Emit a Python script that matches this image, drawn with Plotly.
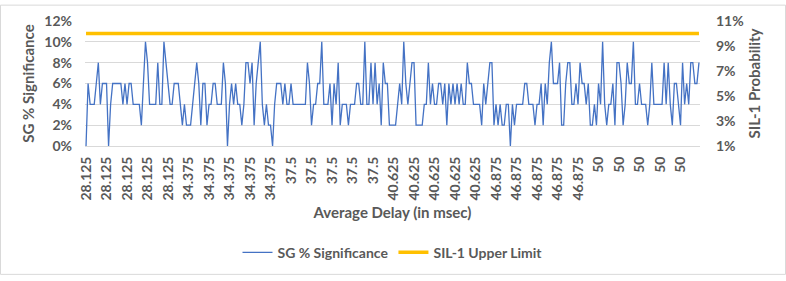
import plotly.graph_objects as go

delays = ["28.125", "34.375", "37.5", "40.625", "46.875", "50"]
points_per_delay = 50
categories = [d for d in delays for _ in range(points_per_delay)]

sg_pct = [
    0,6,4,4,4,6,8,4,6,6, 6,0,4,6,6,6,6,6,4,6, 4,6,6,4,4,4,4,2,6,10, 8,4,4,4,4,8,4,4,10,8, 6,4,4,6,6,6,4,2,4,2,
    2,2,4,6,8,6,2,6,6,2, 4,4,6,6,4,4,4,8,6,0, 4,6,4,6,4,4,2,4,8,8, 6,8,2,6,8,10,4,2,4,2, 2,0,4,6,6,6,4,6,4,4,
    6,4,4,4,4,4,4,4,8,6, 2,4,4,6,6,10,4,4,4,6, 2,6,4,8,2,4,4,4,2,4, 4,4,6,6,4,4,10,4,4,8, 4,8,4,6,2,8,6,6,2,2,
    2,2,4,6,4,10,6,4,6,8, 8,2,2,2,2,4,4,8,4,6, 4,4,6,6,4,6,2,6,4,6, 4,6,4,6,4,4,8,6,6,4, 4,4,4,2,6,4,6,8,8,2,
    4,2,4,2,2,4,4,0,4,2, 4,4,4,4,6,6,4,4,4,2, 4,4,6,2,6,4,8,10,6,6, 6,8,2,2,6,8,8,4,4,6, 4,8,6,6,4,6,2,2,4,2,
    6,4,10,4,2,4,4,6,2,8, 8,6,2,4,8,6,6,10,4,4, 6,4,4,4,2,4,8,4,4,4, 4,4,8,4,8,4,2,6,6,4, 2,8,4,6,4,8,8,6,6,8,
]
sil1_limit_pct = 10
label_step = 10

x_idx = list(range(len(categories)))
sg_frac = [v / 100 for v in sg_pct]
sil_frac = [sil1_limit_pct / 100 for _ in categories]

tickvals = x_idx[::label_step]
ticktext = [categories[i] for i in tickvals]

FONT = "Lato"
GRAY = "#595959"

fig = go.Figure()
fig.add_trace(go.Scatter(
    x=x_idx, y=sg_frac, mode="lines", name="SG % Significance",
    line=dict(color="#4472C4", width=1.3), yaxis="y",
))
fig.add_trace(go.Scatter(
    x=x_idx, y=sil_frac, mode="lines", name="SIL-1 Upper Limit",
    line=dict(color="#FFC000", width=3.5), yaxis="y2",
))

L, R, T, B = 85, 86, 17, 134
W, H = 786, 281
pw, ph = W - L - R, H - T - B

fig.update_layout(
    width=W, height=H,
    margin=dict(l=L, r=R, t=T, b=B),
    paper_bgcolor="white", plot_bgcolor="white",
    font=dict(family=FONT, color=GRAY, size=13),
    showlegend=True,
    legend=dict(orientation="h", x=0.5, xanchor="center", y=(147 - 258) / ph, yanchor="middle",
                font=dict(family=FONT, size=14, color=GRAY, weight="bold"),
                itemwidth=30, tracegroupgap=0),
    xaxis=dict(
        range=[-0.5, len(categories) - 0.5],
        tickmode="array", tickvals=tickvals, ticktext=ticktext, tickangle=-90,
        tickfont=dict(family=FONT, size=14, color=GRAY, weight="bold"),
        showgrid=False, zeroline=False, showline=True, linecolor="#d9d9d9",
        ticks="", ticklabelstandoff=4,
        title=dict(text="Average Delay (in msec)", standoff=7,
                   font=dict(family=FONT, size=15, color=GRAY, weight="bold")),
    ),
    yaxis=dict(
        range=[0, 0.12], dtick=0.02, tick0=0, tickformat=".0%",
        tickfont=dict(family=FONT, size=14, color=GRAY, weight="bold"),
        showgrid=True, gridcolor="#d9d9d9", gridwidth=1,
        zeroline=True, zerolinecolor="#d9d9d9", zerolinewidth=1,
        ticks="", ticklabelstandoff=12,
        title=dict(text="SG % Significance", standoff=6,
                   font=dict(family=FONT, size=15, color=GRAY, weight="bold")),
    ),
    yaxis2=dict(
        range=[0.01, 0.11], dtick=0.02, tick0=0.01, tickformat=".0%",
        overlaying="y", side="right",
        tickfont=dict(family=FONT, size=14, color=GRAY, weight="bold"),
        showgrid=False, zeroline=False, ticks="", ticklabelstandoff=15,
        title=dict(text="SIL-1 Probability", standoff=6,
                   font=dict(family=FONT, size=15, color=GRAY, weight="bold")),
    ),
)

fig.add_shape(type="rect", xref="paper", yref="paper",
              x0=(0.5 - L) / pw, x1=(W - 0.5 - L) / pw,
              y0=(T + ph - (H - 0.5)) / ph, y1=(T + ph - 0.5) / ph,
              line=dict(color="#d9d9d9", width=1), fillcolor="rgba(0,0,0,0)", layer="below")

fig.write_html("out.html")
